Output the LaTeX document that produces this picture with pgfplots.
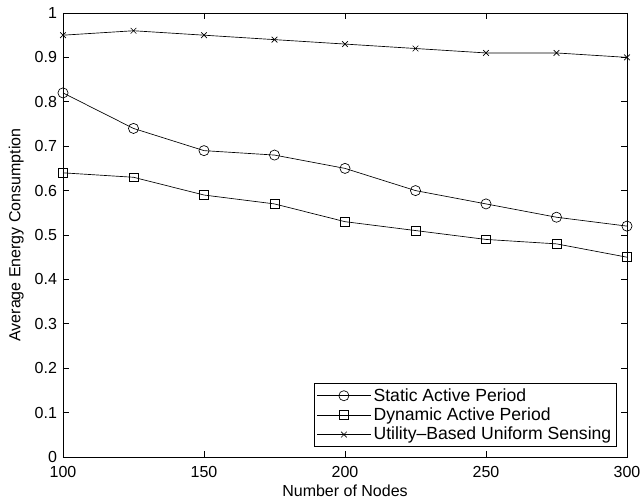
\documentclass[border=0pt]{standalone}
\usepackage{fontspec}
\setmainfont{Liberation Sans}
\usepackage{pgfplots}
\pgfplotsset{compat=1.18}
\usetikzlibrary{calc}
\begin{document}
\begin{tikzpicture}
\begin{axis}[
  scale only axis,
  width=423pt, height=333pt,
  xmin=100, xmax=300, ymin=0, ymax=1,
  xtick={100,150,...,300},
  ytick={0,0.1,...,1},
  yticklabels={0,0.1,0.2,0.3,0.4,0.5,0.6,0.7,0.8,0.9,1},
  tick align=inside,
  tick pos=both,
  major tick length=4.5pt,
  axis line style={line width=0.6pt},
  tick style={line width=0.5pt, black},
  /pgf/number format/assume math mode=true,
  tick label style={font=\fontsize{12pt}{14pt}\selectfont},
  xticklabel style={yshift=-3.5pt},
  yticklabel style={xshift=-1pt},
  label style={font=\fontsize{12pt}{14pt}\selectfont},
  xlabel={Number of Nodes},
  ylabel={Average Energy Consumption},
  xlabel style={at={(axis description cs:0.5,-0.0766)}, anchor=center},
  ylabel style={at={(axis description cs:-0.083,0.5)}, anchor=center},
  legend style={at={(axis description cs:0.9823,0.0225)}, anchor=south east,
    font=\fontsize{13.2pt}{15.5pt}\selectfont, draw=black, line width=0.6pt,
    cells={anchor=west}, inner xsep=2pt, inner ysep=1.5pt, row sep=-0.5pt},
  legend cell align=left,
  legend image code/.code={\draw[mark repeat=2,mark phase=2] plot coordinates {(0pt,0pt) (20pt,0pt) (40pt,0pt)};},
  every axis plot/.append style={black, line width=0.5pt},
]
\addplot[mark=o, mark size=3.8pt] coordinates {(100,0.82)(125,0.74)(150,0.69)(175,0.68)(200,0.65)(225,0.60)(250,0.57)(275,0.54)(300,0.52)};
\addlegendentry{Static Active Period}
\addplot[mark=square, mark size=3.3pt] coordinates {(100,0.64)(125,0.63)(150,0.59)(175,0.57)(200,0.53)(225,0.51)(250,0.49)(275,0.48)(300,0.45)};
\addlegendentry{Dynamic Active Period}
\addplot[mark=x, mark size=3pt] coordinates {(100,0.95)(125,0.96)(150,0.95)(175,0.94)(200,0.93)(225,0.92)(250,0.91)(275,0.91)(300,0.90)};
\addlegendentry{Utility{\textendash}Based Uniform Sensing}
\end{axis}
\pgfresetboundingbox
\path ($(current axis.south west)+(-47.25pt,-33pt)$) rectangle ($(current axis.north east)+(10.5pt,9.75pt)$);
\end{tikzpicture}
\end{document}
